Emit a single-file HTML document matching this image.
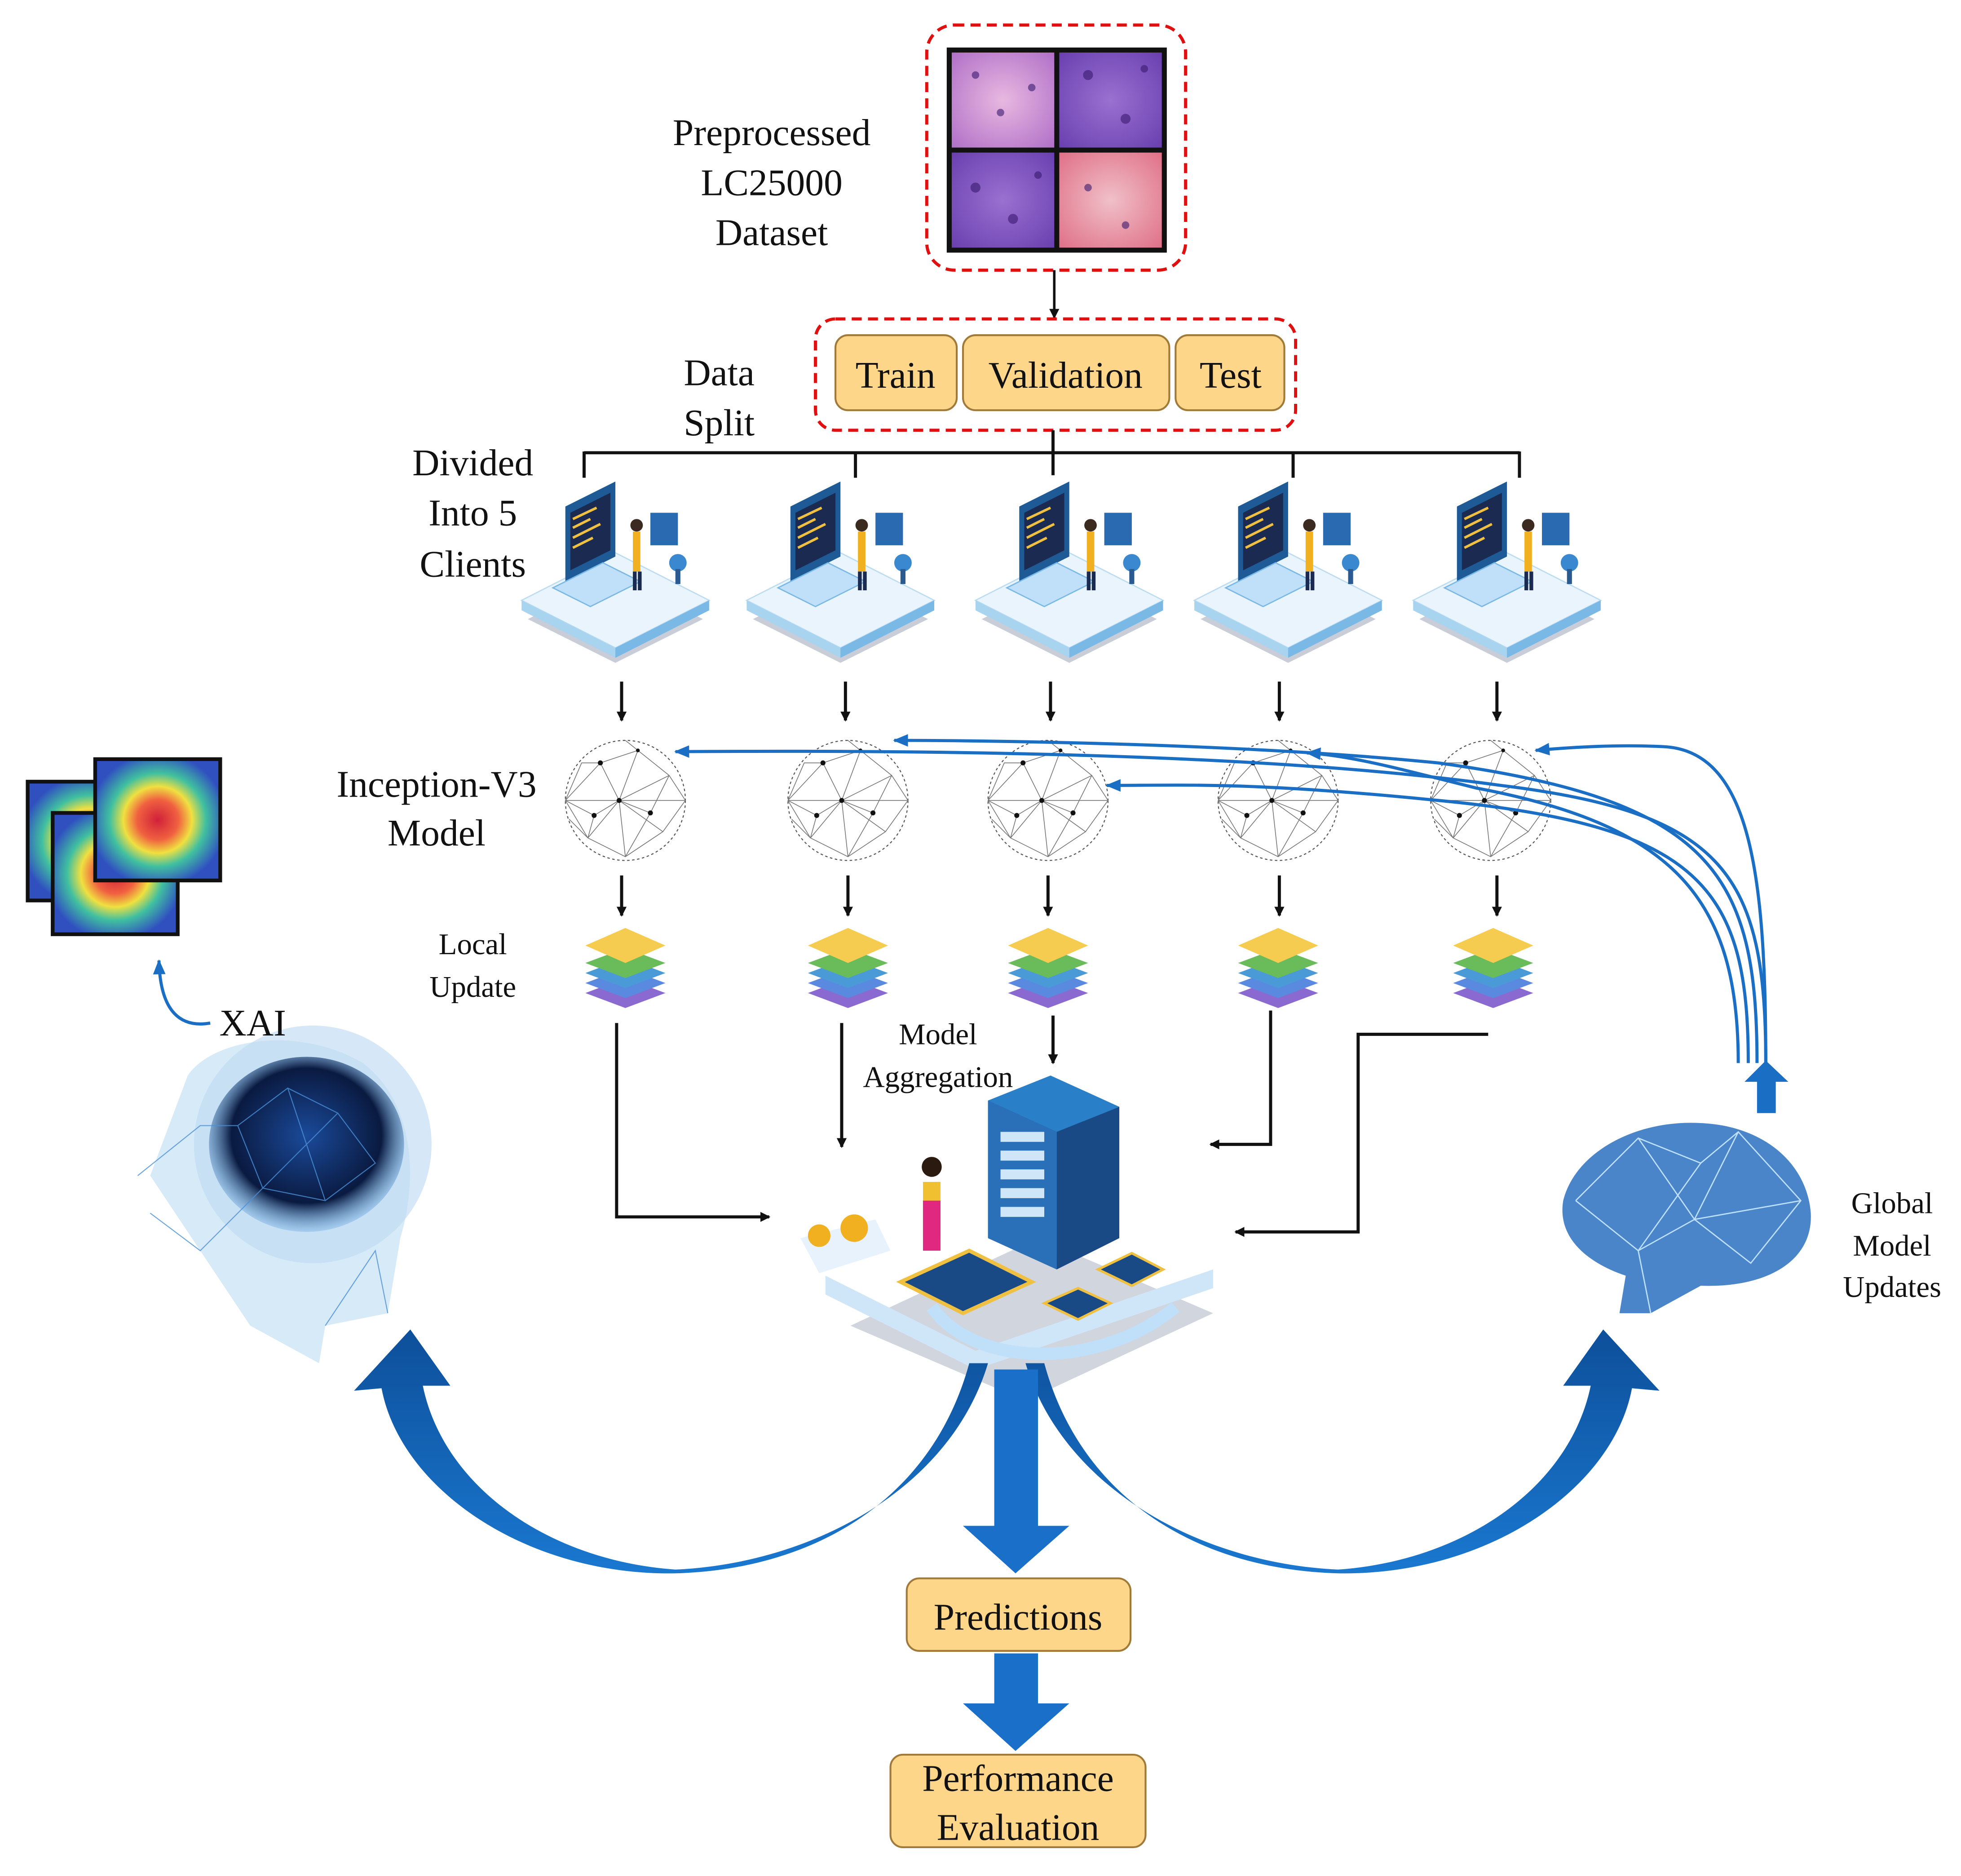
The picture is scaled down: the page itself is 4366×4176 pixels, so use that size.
<!DOCTYPE html>
<html><head><meta charset="utf-8"><style>
html,body{margin:0;padding:0;background:#fff}
svg{display:block}
text{font-family:"Liberation Serif",serif;fill:#111}
</style></head><body>
<svg width="4366" height="4176" viewBox="0 0 1568 1500" xmlns="http://www.w3.org/2000/svg">
<defs>
<marker id="ah" markerWidth="8" markerHeight="8" refX="7" refY="4" orient="auto" markerUnits="userSpaceOnUse"><path d="M0,0 L8,4 L0,8 z" fill="#111"/></marker>
<marker id="bh" markerWidth="12" markerHeight="10" refX="11" refY="5" orient="auto" markerUnits="userSpaceOnUse"><path d="M0,0 L12,5 L0,10 z" fill="#1a6fc4"/></marker>
<radialGradient id="heat" cx="50%" cy="50%" r="55%"><stop offset="0" stop-color="#d0203a"/><stop offset="0.3" stop-color="#f06040"/><stop offset="0.5" stop-color="#f0e040"/><stop offset="0.7" stop-color="#40c0a0"/><stop offset="1" stop-color="#3050c0"/></radialGradient>
<radialGradient id="tis1" cx="50%" cy="50%" r="70%"><stop offset="0" stop-color="#e8b8e0"/><stop offset="1" stop-color="#b070c8"/></radialGradient>
<radialGradient id="tis2" cx="50%" cy="50%" r="70%"><stop offset="0" stop-color="#9a70d0"/><stop offset="1" stop-color="#6a40b0"/></radialGradient>
<radialGradient id="tis3" cx="50%" cy="50%" r="70%"><stop offset="0" stop-color="#f0c0c8"/><stop offset="1" stop-color="#e07088"/></radialGradient>
<radialGradient id="headg" cx="50%" cy="45%" r="55%"><stop offset="0" stop-color="#1a4a9a"/><stop offset="0.7" stop-color="#0a1a40"/><stop offset="1" stop-color="#5aa0e0" stop-opacity="0.3"/></radialGradient>
<linearGradient id="bigarrow" x1="0" y1="0" x2="0" y2="1"><stop offset="0" stop-color="#0d4f9a"/><stop offset="1" stop-color="#1a78d0"/></linearGradient>
<g id="sphere">
<circle r="48" fill="none" stroke="#555" stroke-width="0.8" stroke-dasharray="2 2"/>
<path d="M-48,0 L-20,-30 L10,-40 L35,-20 L48,0 L30,25 L0,45 L-30,30 z M-20,-30 L-5,0 L30,25 M10,-40 L-5,0 L-30,30 M35,-20 L-5,0 L0,45 M-48,0 L-5,0 L48,0 M-20,-30 L-35,-30 L-48,0 M10,-40 L0,-48 M-30,30 L-45,15 M20,10 L35,-20 M20,10 L0,45 M20,10 L-5,0 M-25,12 L-48,0 M-25,12 L-30,30 M-25,12 L-5,0" fill="none" stroke="#777" stroke-width="0.6"/>
<circle cx="-20" cy="-30" r="2" fill="#111"/><circle cx="-5" cy="0" r="2" fill="#111"/><circle cx="20" cy="10" r="2" fill="#111"/><circle cx="-25" cy="12" r="2" fill="#111"/><circle cx="10" cy="-40" r="1.5" fill="#111"/>
</g>
<g id="stack">
<path d="M0,40 L32,52 L0,64 L-32,52 z" fill="#8a6ad0"/>
<path d="M0,32 L32,44 L0,56 L-32,44 z" fill="#5a8ae0"/>
<path d="M0,24 L32,36 L0,48 L-32,36 z" fill="#4a9ad8"/>
<path d="M0,16 L32,28 L0,40 L-32,28 z" fill="#6abb5a"/>
<path d="M0,0 L32,14 L0,28 L-32,14 z" fill="#f6cc50"/>
</g>
<g id="client">
<path d="M-70,55 L0,90 L70,55 L0,20 z" fill="#c8cdd8"/>
<path d="M-75,40 L0,78 L75,40 L0,2 z" fill="#eaf4fc" stroke="#bcdcf2"/>
<path d="M-75,40 L0,78 L0,86 L-75,48 z" fill="#a8d4f0"/>
<path d="M0,78 L75,40 L75,48 L0,86 z" fill="#7ab8e6"/>
<path d="M-40,-35 L0,-55 L0,5 L-40,25 z" fill="#1e5a96"/>
<path d="M-36,-30 L-4,-46 L-4,0 L-36,16 z" fill="#1a2a50"/>
<path d="M-34,-25 L-15,-34 M-34,-18 L-20,-25 M-34,-10 L-12,-21 M-34,-2 L-18,-10" stroke="#f0c040" stroke-width="2"/>
<path d="M-50,30 L-10,10 L20,25 L-20,45 z" fill="#bfe0f8" stroke="#7ab8e6"/>
<rect x="14" y="-15" width="6" height="32" fill="#f0b020"/>
<circle cx="17" cy="-20" r="5" fill="#3a2a20"/>
<rect x="14" y="17" width="3" height="15" fill="#1a2a50"/><rect x="18" y="17" width="3" height="15" fill="#1a2a50"/>
<rect x="28" y="-30" width="22" height="26" fill="#2a6ab0"/>
<circle cx="50" cy="10" r="7" fill="#3a88d0"/><rect x="48" y="15" width="4" height="12" fill="#2a5a90"/>
</g>
</defs>

<!-- dataset -->
<rect x="741" y="20" width="207" height="196" rx="22" fill="none" stroke="#e01010" stroke-width="2.5" stroke-dasharray="8 5"/>
<rect x="757" y="38" width="176" height="164" fill="#111"/>
<rect x="761" y="42" width="82" height="76" fill="url(#tis1)"/>
<rect x="847" y="42" width="82" height="76" fill="url(#tis2)"/>
<rect x="761" y="122" width="82" height="76" fill="url(#tis2)"/>
<rect x="847" y="122" width="82" height="76" fill="url(#tis3)"/>
<g fill="#3a1a70" opacity="0.6">
<circle cx="780" cy="60" r="3"/><circle cx="800" cy="90" r="3"/><circle cx="825" cy="70" r="3"/><circle cx="870" cy="60" r="4"/><circle cx="900" cy="95" r="4"/><circle cx="915" cy="55" r="3"/><circle cx="780" cy="150" r="4"/><circle cx="810" cy="175" r="4"/><circle cx="830" cy="140" r="3"/><circle cx="870" cy="150" r="3"/><circle cx="900" cy="180" r="3"/>
</g>
<text x="617" y="116" font-size="30" text-anchor="middle">Preprocessed</text>
<text x="617" y="156" font-size="30" text-anchor="middle">LC25000</text>
<text x="617" y="196" font-size="30" text-anchor="middle">Dataset</text>
<line x1="843" y1="216" x2="843" y2="254" stroke="#111" stroke-width="2" marker-end="url(#ah)"/>

<!-- split -->
<rect x="652" y="255" width="384" height="89" rx="16" fill="none" stroke="#e01010" stroke-width="2.5" stroke-dasharray="8 5"/>
<g stroke="#a07a3a" stroke-width="1.5" fill="#fdd68a">
<rect x="668" y="268" width="97" height="60" rx="10"/>
<rect x="770" y="268" width="165" height="60" rx="10"/>
<rect x="940" y="268" width="87" height="60" rx="10"/>
</g>
<text x="716" y="310" font-size="30" text-anchor="middle">Train</text>
<text x="852" y="310" font-size="30" text-anchor="middle">Validation</text>
<text x="984" y="310" font-size="30" text-anchor="middle">Test</text>
<text x="575" y="308" font-size="30" text-anchor="middle">Data</text>
<text x="575" y="348" font-size="30" text-anchor="middle">Split</text>
<g stroke="#111" stroke-width="2.5" fill="none">
<line x1="842" y1="344" x2="842" y2="380"/>
<line x1="467" y1="362" x2="1215" y2="362"/>
<line x1="467" y1="361" x2="467" y2="382"/><line x1="684" y1="361" x2="684" y2="382"/><line x1="1034" y1="361" x2="1034" y2="382"/><line x1="1215" y1="361" x2="1215" y2="382"/>
</g>
<text x="378" y="380" font-size="30" text-anchor="middle">Divided</text>
<text x="378" y="420" font-size="30" text-anchor="middle">Into 5</text>
<text x="378" y="461" font-size="30" text-anchor="middle">Clients</text>

<!-- clients -->
<use href="#client" x="492" y="440"/>
<use href="#client" x="672" y="440"/>
<use href="#client" x="855" y="440"/>
<use href="#client" x="1030" y="440"/>
<use href="#client" x="1205" y="440"/>

<g stroke="#111" stroke-width="2.5" marker-end="url(#ah)">
<line x1="497" y1="545" x2="497" y2="576"/><line x1="676" y1="545" x2="676" y2="576"/><line x1="840" y1="545" x2="840" y2="576"/><line x1="1023" y1="545" x2="1023" y2="576"/><line x1="1197" y1="545" x2="1197" y2="576"/>
</g>

<use href="#sphere" x="500" y="640"/><use href="#sphere" x="678" y="640"/><use href="#sphere" x="838" y="640"/><use href="#sphere" x="1022" y="640"/><use href="#sphere" x="1192" y="640"/>
<text x="349" y="637" font-size="30" text-anchor="middle">Inception-V3</text>
<text x="349" y="676" font-size="30" text-anchor="middle">Model</text>

<!-- blue update curves -->
<g stroke="#1a6fc4" stroke-width="2.5" fill="none" marker-end="url(#bh)">
<path d="M1412,850 C1412,700 1380,650 1200,628 C1000,600 700,600 540,601"/>
<path d="M1405,850 C1405,700 1370,640 1150,610 C1000,595 800,592 715,592"/>
<path d="M1398,850 C1398,710 1360,660 1150,640 C1000,625 950,628 885,628"/>
<path d="M1390,850 C1390,720 1340,660 1180,630 C1120,615 1080,604 1045,602"/>
<path d="M1412,850 C1412,700 1400,600 1330,597 C1290,595 1250,598 1228,600"/>
</g>

<g stroke="#111" stroke-width="2.5" marker-end="url(#ah)">
<line x1="497" y1="700" x2="497" y2="732"/><line x1="678" y1="700" x2="678" y2="732"/><line x1="838" y1="700" x2="838" y2="732"/><line x1="1023" y1="700" x2="1023" y2="732"/><line x1="1197" y1="700" x2="1197" y2="732"/>
</g>
<use href="#stack" x="500" y="742"/><use href="#stack" x="678" y="742"/><use href="#stack" x="838" y="742"/><use href="#stack" x="1022" y="742"/><use href="#stack" x="1194" y="742"/>
<text x="378" y="763" font-size="24" text-anchor="middle">Local</text>
<text x="378" y="797" font-size="24" text-anchor="middle">Update</text>

<!-- aggregation lines -->
<g stroke="#111" stroke-width="2.5" fill="none" marker-end="url(#ah)">
<path d="M493,818 L493,973 L615,973"/>
<path d="M673,818 L673,917"/>
<path d="M842,812 L842,850"/>
<path d="M1016,808 L1016,915 L968,915"/>
<path d="M1190,827 L1086,827 L1086,985 L988,985"/>
</g>
<text x="750" y="835" font-size="24" text-anchor="middle">Model</text>
<text x="750" y="869" font-size="24" text-anchor="middle">Aggregation</text>

<!-- server -->
<path d="M680,1060 L820,1120 L970,1050 L830,990 z" fill="#d0d5de"/>
<path d="M660,1020 L780,1080 L970,1015 L970,1030 L780,1095 L660,1035 z" fill="#cfe6f8"/>
<path d="M745,1045 C780,1095 880,1095 940,1045" fill="none" stroke="#bfe0f8" stroke-width="10"/>
<path d="M790,880 L840,860 L895,885 L895,990 L845,1015 L790,990 z" fill="#1a4a86"/>
<path d="M790,880 L840,860 L895,885 L845,905 z" fill="#2a80c8"/>
<path d="M790,880 L845,905 L845,1015 L790,990 z" fill="#2a70b8"/>
<g fill="#cfe6f8"><rect x="800" y="905" width="35" height="8"/><rect x="800" y="920" width="35" height="8"/><rect x="800" y="935" width="35" height="8"/><rect x="800" y="950" width="35" height="8"/><rect x="800" y="965" width="35" height="8"/></g>
<path d="M720,1025 L775,1000 L825,1025 L770,1050 z" fill="#1a4a86" stroke="#f0c040" stroke-width="3"/>
<path d="M835,1042 L862,1030 L888,1042 L862,1055 z" fill="#1a4a86" stroke="#f0c040" stroke-width="2"/>
<path d="M878,1015 L905,1002 L930,1015 L905,1028 z" fill="#1a4a86" stroke="#f0c040" stroke-width="2"/>
<rect x="738" y="945" width="14" height="45" fill="#f0c030"/><rect x="738" y="960" width="14" height="40" fill="#e02880"/><circle cx="745" cy="933" r="8" fill="#2a1a10"/>
<path d="M640,990 L700,975 L712,1000 L655,1018 z" fill="#e8f2fc"/>
<circle cx="655" cy="988" r="9" fill="#f0b020"/><circle cx="683" cy="982" r="11" fill="#f0b020"/>

<!-- big blue arrows -->
<path d="M775,1090 C745,1200 650,1255 540,1258 C420,1260 320,1190 305,1110 L283,1112 L328,1063 L360,1108 L338,1108 C355,1190 440,1248 540,1255 C650,1250 760,1190 790,1090 z" fill="url(#bigarrow)"/>
<path d="M835,1090 C865,1200 960,1255 1070,1258 C1190,1260 1290,1190 1305,1110 L1327,1112 L1282,1063 L1250,1108 L1272,1108 C1255,1190 1170,1248 1070,1255 C960,1250 850,1190 820,1090 z" fill="url(#bigarrow)"/>
<path d="M795,1095 L830,1095 L830,1220 L855,1220 L812,1258 L770,1220 L795,1220 z" fill="#1a70c8"/>
<rect x="725" y="1262" width="179" height="58" rx="10" fill="#fdd68a" stroke="#a07a3a" stroke-width="1.5"/>
<text x="814" y="1303" font-size="30" text-anchor="middle">Predictions</text>
<path d="M795,1322 L830,1322 L830,1362 L855,1362 L812,1400 L770,1362 L795,1362 z" fill="#1a70c8"/>
<rect x="712" y="1403" width="204" height="74" rx="10" fill="#fdd68a" stroke="#a07a3a" stroke-width="1.5"/>
<text x="814" y="1432" font-size="30" text-anchor="middle">Performance</text>
<text x="814" y="1471" font-size="30" text-anchor="middle">Evaluation</text>

<!-- left head -->
<ellipse cx="250" cy="915" rx="95" ry="95" fill="#5aa0e0" opacity="0.25"/>
<path d="M150,860 C170,830 240,820 290,850 C330,880 335,940 320,990 L310,1050 L260,1060 L255,1090 L200,1060 L160,1000 L120,940 z" fill="#bcdcf2" opacity="0.6"/>
<ellipse cx="245" cy="915" rx="78" ry="70" fill="url(#headg)"/>
<g stroke="#4a90d8" stroke-width="0.8" fill="none" opacity="0.8"><path d="M190,900 L230,870 L270,890 L300,930 L260,960 L210,950 z M230,870 L260,960 M270,890 L210,950 M110,940 L160,900 L190,900 M120,970 L160,1000 L210,950 M260,1060 L300,1000 L310,1050"/></g>
<text x="202" y="828" font-size="30" text-anchor="middle">XAI</text>
<path d="M168,818 C145,822 128,810 127,768" fill="none" stroke="#1a6fc4" stroke-width="2.5" marker-end="url(#bh)"/>

<!-- heatmaps -->
<rect x="22" y="625" width="100" height="95" fill="url(#heat)" stroke="#111" stroke-width="3"/>
<rect x="42" y="650" width="100" height="97" fill="url(#heat)" stroke="#111" stroke-width="3"/>
<rect x="76" y="607" width="100" height="97" fill="url(#heat)" stroke="#111" stroke-width="3"/>

<!-- right brain -->
<path d="M1250,960 C1260,920 1310,895 1360,898 C1410,900 1445,930 1448,970 C1450,1010 1410,1030 1360,1028 L1320,1050 L1295,1050 L1300,1020 C1270,1010 1245,990 1250,960 z" fill="#2a70c0" opacity="0.85"/>
<g stroke="#bde0ff" stroke-width="1" fill="none"><path d="M1260,960 L1310,910 L1360,930 L1390,905 L1440,960 L1400,1010 L1355,975 L1310,1000 L1260,960 M1310,910 L1355,975 L1390,905 M1360,930 L1310,1000 M1355,975 L1440,960 M1320,1050 L1310,1000"/></g>
<text x="1513" y="970" font-size="24" text-anchor="middle">Global</text>
<text x="1513" y="1004" font-size="24" text-anchor="middle">Model</text>
<text x="1513" y="1037" font-size="24" text-anchor="middle">Updates</text>
<path d="M1405,890 L1420,890 L1420,865 L1430,865 L1412,848 L1395,865 L1405,865 z" fill="#1a6fc4"/>
</svg>
</body></html>
